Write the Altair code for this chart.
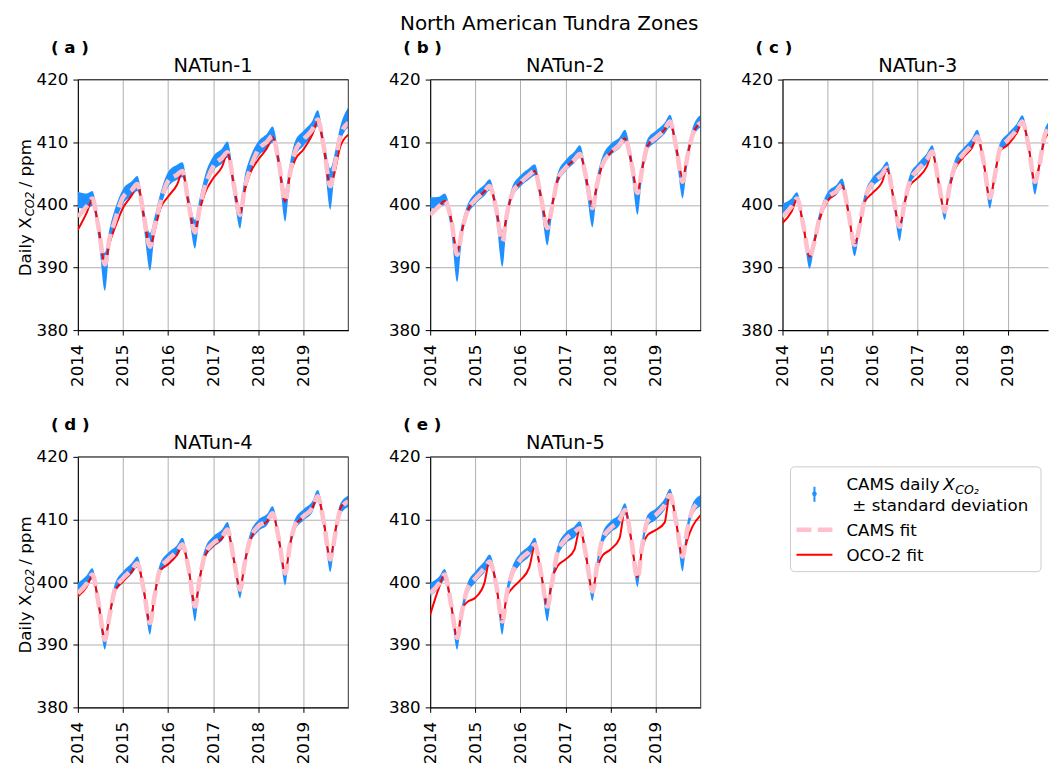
import altair as alt
import pandas as pd

FONT = "DejaVu Sans"
BLUE = "#1e90ff"
GRID = "#b0b0b0"
SPINE = "#444444"

PANEL_W = 271
PANEL_H = 251

# Knot dates: within-year fractions for each year, plus the end of 2019
YEARS = [2014, 2015, 2016, 2017, 2018, 2019]
KNOT_FRACTIONS = [0.0, 0.2, 0.32, 0.46, 0.60, 0.70, 0.82]
KNOT_T = [y + f for y in YEARS for f in KNOT_FRACTIONS] + [2020.0]

Y_TICKS = [380, 390, 400, 410, 420]

# ---------------- NATun-1 ----------------
NATUN1_CAMS_FIT = [
    398.1, 399.8, 401.0, 396.3, 390.5, 394.5, 397.4,
    401.2, 402.4, 403.3, 398.4, 393.3, 396.5, 400.0,
    403.8, 404.8, 405.4, 400.0, 395.6, 399.5, 402.9,
    406.1, 407.5, 408.4, 403.2, 398.4, 402.7, 405.7,
    408.8, 410.1, 411.0, 406.7, 400.6, 404.8, 408.5,
    410.4, 412.0, 413.6, 409.1, 403.0, 406.4, 410.9,
    413.1,
]
NATUN1_OCO2_FIT = [
    396.0, 398.8, 400.8, 396.3, 390.6, 393.8, 396.3,
    399.5, 401.6, 403.4, 398.4, 393.3, 395.7, 399.2,
    401.3, 403.2, 405.2, 400.0, 395.7, 399.0, 401.9,
    404.2, 406.1, 408.2, 403.2, 398.4, 402.2, 405.0,
    407.2, 409.1, 410.8, 406.7, 400.5, 404.6, 407.2,
    408.8, 411.2, 413.3, 409.1, 402.9, 405.3, 409.3,
    411.2,
]
NATUN1_DAILY_MEAN = [
    400.8, 400.6, 401.0, 396.0, 389.3, 394.5, 398.0,
    401.3, 402.6, 403.4, 398.0, 392.5, 396.5, 400.3,
    404.0, 405.2, 405.6, 400.0, 395.3, 399.5, 403.4,
    406.5, 407.8, 408.8, 403.0, 398.0, 403.0, 406.2,
    408.9, 410.2, 411.2, 406.5, 399.8, 405.0, 408.9,
    410.6, 412.2, 413.8, 409.0, 402.5, 406.8, 411.2,
    414.0,
]
NATUN1_DAILY_SD = [
    1.3, 1.2, 1.2, 1.5, 3.0, 1.6, 1.3,
    1.2, 1.2, 1.2, 1.5, 3.0, 1.5, 1.3,
    1.2, 1.2, 1.2, 1.5, 2.3, 1.5, 1.3,
    1.2, 1.2, 1.3, 1.5, 1.8, 1.5, 1.3,
    1.2, 1.2, 1.3, 1.5, 2.5, 1.5, 1.3,
    1.2, 1.2, 1.3, 1.5, 3.3, 1.5, 1.3,
    1.6,
]

# ---------------- NATun-2 ----------------
NATUN2_CAMS_FIT = [
    398.4, 399.8, 400.6, 397.9, 392.0, 395.7, 398.9,
    400.8, 402.1, 403.0, 399.5, 394.1, 398.4, 401.8,
    403.5, 404.8, 405.4, 401.1, 396.3, 399.5, 403.8,
    405.9, 407.2, 408.1, 404.3, 399.5, 403.2, 406.4,
    408.3, 409.6, 410.7, 406.9, 401.9, 405.6, 409.4,
    410.7, 412.0, 413.3, 409.1, 403.7, 407.5, 411.2,
    413.1,
]
NATUN2_OCO2_FIT = [
    398.4, 399.8, 400.6, 397.9, 392.5, 395.7, 398.9,
    400.8, 402.1, 403.0, 399.5, 394.7, 398.4, 401.8,
    403.5, 404.8, 405.4, 401.1, 397.0, 399.7, 403.8,
    405.9, 407.2, 408.1, 404.3, 399.8, 403.2, 406.4,
    408.3, 409.6, 410.6, 406.9, 402.2, 405.6, 409.4,
    410.7, 412.0, 413.2, 409.1, 404.4, 407.5, 411.2,
    413.1,
]
NATUN2_DAILY_MEAN = [
    400.3, 400.4, 400.9, 397.5, 390.5, 395.7, 399.0,
    401.0, 402.3, 403.2, 399.3, 393.0, 398.2, 402.0,
    403.8, 405.0, 405.6, 401.0, 395.5, 399.5, 404.0,
    406.2, 407.6, 408.5, 404.0, 398.5, 403.2, 406.8,
    408.8, 409.9, 411.0, 406.8, 400.5, 405.6, 409.6,
    410.9, 412.2, 413.4, 409.0, 402.8, 407.4, 411.4,
    413.4,
]
NATUN2_DAILY_SD = [
    0.9, 0.9, 0.9, 1.3, 2.8, 1.3, 0.9,
    0.9, 0.9, 0.9, 1.3, 2.9, 1.3, 0.9,
    0.9, 0.9, 0.9, 1.3, 2.0, 1.3, 0.9,
    0.9, 0.9, 1.0, 1.3, 2.1, 1.3, 0.9,
    0.9, 0.9, 1.0, 1.3, 2.1, 1.3, 0.9,
    0.9, 0.9, 1.0, 1.3, 1.8, 1.3, 0.9,
    1.0,
]

# ---------------- NATun-3 ----------------
NATUN3_CAMS_FIT = [
    398.1, 399.7, 401.0, 396.8, 391.7, 393.9, 397.9,
    401.1, 402.2, 403.2, 398.9, 393.6, 396.3, 400.8,
    403.5, 404.8, 405.9, 401.1, 396.5, 400.0, 403.7,
    405.6, 407.2, 408.5, 403.7, 398.9, 402.7, 406.1,
    408.0, 409.6, 410.9, 406.9, 401.1, 404.3, 408.8,
    410.4, 412.0, 413.3, 409.3, 403.7, 406.4, 411.2,
    412.8,
]
NATUN3_OCO2_FIT = [
    397.1, 398.9, 400.8, 396.8, 391.7, 393.9, 397.6,
    400.6, 401.9, 403.1, 398.9, 393.6, 396.3, 400.4,
    401.9, 403.5, 405.7, 401.1, 396.5, 400.0, 403.0,
    404.3, 406.1, 408.3, 403.7, 398.9, 402.5, 405.6,
    407.5, 409.1, 410.7, 406.9, 401.1, 404.3, 408.5,
    409.6, 411.5, 413.2, 409.3, 403.7, 406.4, 410.5,
    412.0,
]
NATUN3_DAILY_MEAN = [
    399.3, 400.2, 401.2, 396.8, 391.0, 394.0, 398.0,
    401.2, 402.4, 403.4, 398.9, 393.0, 396.3, 400.9,
    403.6, 405.0, 406.1, 401.1, 395.7, 400.0, 403.9,
    405.8, 407.4, 408.7, 403.7, 398.6, 402.7, 406.3,
    408.2, 409.8, 411.2, 406.9, 400.4, 404.3, 409.0,
    410.6, 412.2, 413.5, 409.3, 402.9, 406.4, 411.4,
    413.0,
]
NATUN3_DAILY_SD = [
    0.9, 0.8, 0.8, 1.0, 1.2, 1.0, 0.8,
    0.8, 0.8, 0.8, 1.0, 1.2, 1.0, 0.8,
    0.8, 0.8, 0.8, 1.0, 1.5, 1.0, 0.8,
    0.8, 0.8, 0.8, 1.0, 1.0, 1.0, 0.8,
    0.8, 0.8, 0.8, 1.0, 1.0, 1.0, 0.8,
    0.8, 0.8, 0.8, 1.0, 1.3, 1.0, 0.8,
    0.8,
]

# ---------------- NATun-4 ----------------
NATUN4_CAMS_FIT = [
    398.2, 399.8, 401.2, 396.6, 390.8, 394.5, 398.8,
    400.6, 402.0, 403.0, 398.8, 393.5, 397.7, 402.0,
    403.6, 404.9, 406.0, 402.0, 396.1, 400.4, 404.4,
    406.2, 407.2, 408.4, 403.6, 398.8, 403.0, 406.8,
    408.9, 409.8, 411.0, 406.8, 401.4, 405.7, 409.1,
    410.5, 411.8, 413.7, 409.4, 403.6, 407.3, 411.5,
    412.9,
]
NATUN4_OCO2_FIT = [
    397.7, 399.3, 401.0, 396.6, 390.8, 394.5, 398.6,
    400.1, 401.7, 403.0, 398.8, 393.5, 397.7, 401.8,
    402.8, 404.4, 405.8, 402.0, 396.3, 400.4, 404.2,
    405.8, 407.0, 408.0, 403.6, 399.0, 403.0, 406.6,
    408.7, 409.7, 410.9, 406.8, 401.6, 405.7, 409.1,
    410.3, 411.8, 413.6, 409.4, 403.8, 407.8, 411.8,
    413.1,
]
NATUN4_DAILY_MEAN = [
    399.0, 400.2, 401.3, 396.6, 390.5, 394.5, 398.8,
    400.8, 402.2, 403.2, 398.8, 393.0, 397.7, 402.0,
    403.8, 405.0, 406.2, 402.0, 395.5, 400.4, 404.5,
    406.4, 407.5, 408.7, 403.6, 398.4, 403.0, 406.9,
    409.0, 410.0, 411.2, 406.8, 400.7, 405.7, 409.2,
    410.7, 412.0, 413.8, 409.4, 402.9, 407.3, 411.6,
    412.9,
]
NATUN4_DAILY_SD = [
    0.9, 0.9, 0.9, 1.1, 1.3, 1.0, 0.9,
    0.9, 0.9, 0.9, 1.0, 1.4, 1.0, 0.9,
    0.9, 0.9, 0.9, 1.0, 1.8, 1.0, 0.9,
    0.9, 0.9, 0.9, 1.0, 1.0, 1.0, 0.9,
    0.9, 0.9, 0.9, 1.0, 1.2, 1.0, 0.9,
    0.9, 0.9, 0.9, 1.0, 1.3, 1.0, 0.9,
    0.9,
]

# ---------------- NATun-5 ----------------
NATUN5_CAMS_FIT = [
    398.2, 399.8, 401.2, 396.6, 391.1, 395.1, 398.8,
    400.6, 402.2, 403.3, 399.8, 393.7, 398.2, 401.4,
    403.6, 404.9, 406.0, 401.4, 396.1, 399.8, 404.6,
    406.8, 408.0, 408.6, 404.1, 398.5, 402.5, 406.8,
    408.6, 409.9, 411.5, 406.8, 400.6, 405.7, 409.7,
    410.7, 412.3, 413.9, 409.4, 404.1, 408.3, 411.5,
    412.9,
]
NATUN5_OCO2_FIT = [
    394.8, 399.2, 401.2, 396.6, 391.3, 395.6, 396.8,
    397.5, 399.8, 403.4, 399.8, 393.9, 397.7, 399.0,
    400.3, 402.4, 405.7, 401.4, 396.3, 400.4, 402.5,
    403.6, 405.2, 408.5, 404.1, 398.7, 402.0, 404.2,
    405.2, 407.0, 411.5, 406.8, 400.8, 405.2, 407.5,
    408.3, 409.5, 414.2, 409.4, 404.1, 406.7, 408.9,
    410.7,
]
NATUN5_DAILY_MEAN = [
    398.8, 400.0, 401.2, 396.6, 390.5, 395.1, 398.8,
    400.8, 402.4, 403.5, 399.8, 393.0, 398.2, 401.5,
    403.7, 405.0, 406.2, 401.4, 395.5, 399.8, 404.7,
    407.0, 408.0, 408.8, 404.1, 398.0, 402.5, 406.9,
    408.8, 410.0, 411.7, 406.8, 400.2, 405.7, 409.8,
    410.8, 412.4, 414.0, 409.4, 403.0, 408.3, 411.6,
    413.0,
]
NATUN5_DAILY_SD = [
    1.1, 0.9, 0.9, 1.1, 1.3, 1.0, 0.9,
    0.9, 0.9, 0.9, 1.0, 1.4, 1.0, 0.9,
    0.9, 0.9, 0.9, 1.0, 1.8, 1.0, 0.9,
    0.9, 0.9, 0.9, 1.0, 1.0, 1.0, 0.9,
    0.9, 0.9, 0.9, 1.0, 1.0, 1.0, 0.9,
    0.9, 0.9, 0.9, 1.0, 1.3, 1.0, 0.9,
    0.9,
]

PANEL_TAGS = ["( a )", "( b )", "( c )", "( d )", "( e )"]
PANEL_NAMES = ["NATun-1", "NATun-2", "NATun-3", "NATun-4", "NATun-5"]
LEGEND_LABELS = ["CAMS daily", "\u00b1 standard deviation", "CAMS fit", "OCO-2 fit"]
SUPTITLE = "North American Tundra Zones"

PINK_DASH = [15, 6.4]
PINK_WIDTH = 4.6


def one_row(**kw):
    return pd.DataFrame({k: [v] for k, v in kw.items()})


def text_at(x, y, text, size=16.7, **style):
    return alt.Chart(one_row(t=text)).mark_text(
        font=FONT, fontSize=size, color="black", **style
    ).encode(x=alt.value(x), y=alt.value(y), text="t:N")


def make_panel(tag, name, cams, oco, mean, sd, width=PANEL_W,
               y_title=False, open_right=False):
    df = pd.DataFrame({
        "t": KNOT_T,
        "cams": cams,
        "oco": oco,
        "lo": [m - s for m, s in zip(mean, sd)],
        "hi": [m + s for m, s in zip(mean, sd)],
    })
    x_max = 2014 + 6.0 * width / PANEL_W
    x_enc = alt.X(
        "t:Q",
        scale=alt.Scale(domain=[2014, x_max], nice=False, zero=False),
        axis=alt.Axis(values=YEARS, format="d", labelAngle=270, title=None,
                      labelOverlap=False, labelFlush=False),
    )
    y_enc = alt.Y(
        "lo:Q",
        scale=alt.Scale(domain=[380, 420], nice=False, zero=False),
        axis=alt.Axis(values=Y_TICKS, title=None, labelFlush=False),
    )
    base = alt.Chart(df)
    band = base.mark_area(color=BLUE, interpolate="monotone", clip=True).encode(
        x=x_enc, y=y_enc, y2="hi:Q"
    )
    oco_line = base.mark_line(
        color="red", strokeWidth=2, interpolate="monotone", clip=True
    ).encode(x="t:Q", y="oco:Q")
    cams_line = base.mark_line(
        color="pink", strokeWidth=PINK_WIDTH, strokeDash=PINK_DASH,
        interpolate="monotone", clip=True
    ).encode(x="t:Q", y="cams:Q")

    layers = [band, oco_line, cams_line]

    # top spine, and right spine unless the panel runs off the edge
    layers.append(
        alt.Chart(one_row(k=0)).mark_rule(color=SPINE, strokeWidth=1.1).encode(
            x=alt.value(0), x2=alt.value(width), y=alt.value(0)
        )
    )
    if not open_right:
        layers.append(
            alt.Chart(one_row(k=0)).mark_rule(color=SPINE, strokeWidth=1.1).encode(
                x=alt.value(width), y=alt.value(0), y2=alt.value(PANEL_H)
            )
        )

    layers.append(text_at(-27, -32, tag, fontWeight="bold",
                          align="left", baseline="middle"))
    layers.append(text_at(PANEL_W / 2, -14, name, size=19.4,
                          align="center", baseline="middle"))

    if y_title:
        layers.append(text_at(-47, 197, "Daily X", angle=270,
                              align="left", baseline="alphabetic"))
        layers.append(text_at(-44, 137, "CO2", size=11.7, angle=270,
                              fontStyle="italic", align="left",
                              baseline="alphabetic"))
        layers.append(text_at(-47, 108, "/ ppm", angle=270,
                              align="left", baseline="alphabetic"))

    return alt.layer(*layers).properties(width=width, height=PANEL_H)


def make_legend():
    lx, ly = 50, 10  # top-left corner of the legend frame
    layers = [
        alt.Chart(one_row(k=0)).mark_rect(
            fill="white", stroke="#cccccc", strokeWidth=1, cornerRadius=4
        ).encode(x=alt.value(lx), x2=alt.value(lx + 251),
                 y=alt.value(ly), y2=alt.value(ly + 105)),
        # error-bar glyph
        alt.Chart(one_row(k=0)).mark_rule(color=BLUE, strokeWidth=2).encode(
            x=alt.value(lx + 24), y=alt.value(ly + 20), y2=alt.value(ly + 35)
        ),
        alt.Chart(one_row(k=0)).mark_point(
            color=BLUE, filled=True, size=22, opacity=1
        ).encode(x=alt.value(lx + 24), y=alt.value(ly + 27)),
        # dashed pink and solid red keys
        alt.Chart(one_row(k=0)).mark_rule(
            color="pink", strokeWidth=PINK_WIDTH, strokeDash=PINK_DASH
        ).encode(x=alt.value(lx + 6), x2=alt.value(lx + 42), y=alt.value(ly + 63)),
        alt.Chart(one_row(k=0)).mark_rule(color="red", strokeWidth=2).encode(
            x=alt.value(lx + 6), x2=alt.value(lx + 42), y=alt.value(ly + 88)
        ),
        text_at(lx + 56, ly + 23, LEGEND_LABELS[0], align="left", baseline="alphabetic"),
        text_at(lx + 153, ly + 23, "X", fontStyle="italic", align="left",
                baseline="alphabetic"),
        text_at(lx + 165, ly + 27, "CO\u2082", size=12.5, fontStyle="italic",
                align="left", baseline="alphabetic"),
        text_at(lx + 62, ly + 44, LEGEND_LABELS[1], align="left", baseline="alphabetic"),
        text_at(lx + 56, ly + 69, LEGEND_LABELS[2], align="left", baseline="alphabetic"),
        text_at(lx + 56, ly + 94, LEGEND_LABELS[3], align="left", baseline="alphabetic"),
    ]
    return alt.layer(*layers).properties(width=PANEL_W, height=PANEL_H)


SERIES = [
    (NATUN1_CAMS_FIT, NATUN1_OCO2_FIT, NATUN1_DAILY_MEAN, NATUN1_DAILY_SD),
    (NATUN2_CAMS_FIT, NATUN2_OCO2_FIT, NATUN2_DAILY_MEAN, NATUN2_DAILY_SD),
    (NATUN3_CAMS_FIT, NATUN3_OCO2_FIT, NATUN3_DAILY_MEAN, NATUN3_DAILY_SD),
    (NATUN4_CAMS_FIT, NATUN4_OCO2_FIT, NATUN4_DAILY_MEAN, NATUN4_DAILY_SD),
    (NATUN5_CAMS_FIT, NATUN5_OCO2_FIT, NATUN5_DAILY_MEAN, NATUN5_DAILY_SD),
]

panels = []
for i, (tag, name, s) in enumerate(zip(PANEL_TAGS, PANEL_NAMES, SERIES)):
    panels.append(make_panel(
        tag, name, *s,
        width=266 if i == 2 else PANEL_W,
        y_title=(i in (0, 3)),
        open_right=(i == 2),
    ))

row1 = alt.hconcat(panels[0], panels[1], panels[2], spacing=39)
row2 = alt.hconcat(panels[3], panels[4], make_legend(), spacing=39)

chart = alt.vconcat(row1, row2, spacing=30).properties(
    title=alt.TitleParams(SUPTITLE, font=FONT, fontSize=20, fontWeight="normal",
                          color="black", anchor="middle", dx=16, offset=6),
    padding={"left": 18, "top": 13, "right": 0, "bottom": 0},
).configure_view(
    strokeWidth=0
).configure_axis(
    labelFont=FONT, labelFontSize=16.7, labelColor="black",
    tickColor="black", tickSize=5, tickWidth=1,
    domainColor="black", domainWidth=1.1,
    gridColor=GRID, gridWidth=1,
).configure_axisX(
    labelPadding=9
).configure_axisY(
    labelPadding=5
)

chart.save("out.html", embed_options={"renderer": "svg", "actions": False})
